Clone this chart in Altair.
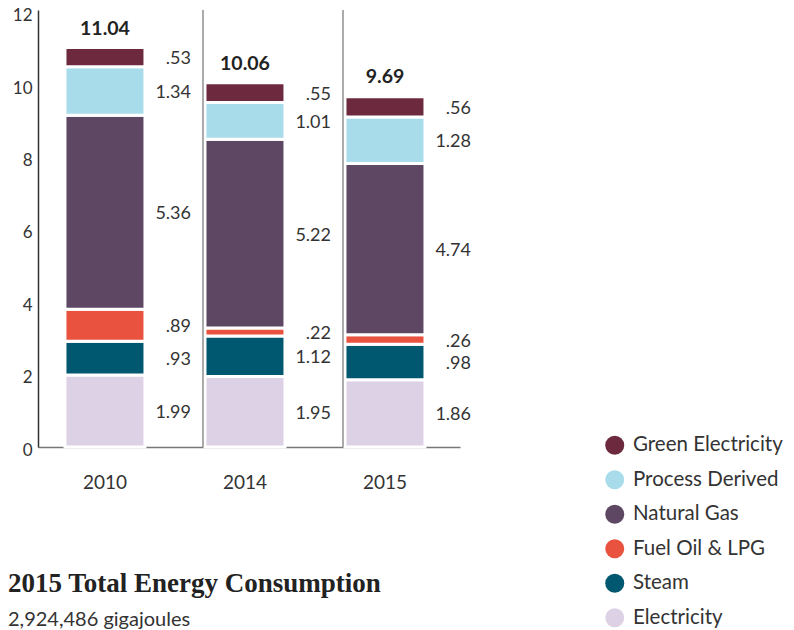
import altair as alt
import pandas as pd

years = ["2010", "2014", "2015"]
sources = ["Electricity", "Steam", "Fuel Oil & LPG", "Natural Gas", "Process Derived", "Green Electricity"]
electricity = [1.99, 1.95, 1.86]
steam = [0.93, 1.12, 0.98]
fuel_oil = [0.89, 0.22, 0.26]
natural_gas = [5.36, 5.22, 4.74]
process_derived = [1.34, 1.01, 1.28]
green_electricity = [0.53, 0.55, 0.56]
totals = [11.04, 10.06, 9.69]
colors = ["#ddd1e5", "#005870", "#e9523f", "#5e4763", "#a8dcea", "#6d2a3e"]
title_text = ["2015 Total Energy Consumption"]
subtitle_text = ["2,924,486 gigajoules"]
y_ticks = [0, 2, 4, 6, 8, 10, 12]

series = [electricity, steam, fuel_oil, natural_gas, process_derived, green_electricity]
rows = []
for si, (src, vals) in enumerate(zip(sources, series)):
    for yi, yr in enumerate(years):
        rows.append({"year": yr, "source": src, "value": vals[yi], "order": si,
                     "label": f"{vals[yi]:.2f}".lstrip("0")})
df = pd.DataFrame(rows)
tot_df = pd.DataFrame({"year": years, "total": totals, "label": [f"{t:.2f}" for t in totals]})
sep_df = pd.DataFrame({"year": years[1:]})

W, H = 422, 437
FONT = "Lato"

xscale = alt.Scale(domain=years, paddingInner=0.4286, paddingOuter=0.2214, align=0.435)
yscale = alt.Scale(domain=[0, 12.08], nice=False)

legend_domain = list(reversed(sources))
legend_range = list(reversed(colors))

bars = alt.Chart(df).mark_bar(stroke="white", strokeWidth=3).encode(
    x=alt.X("year:N", scale=xscale, sort=years,
            axis=alt.Axis(title=None, labelAngle=0, tickSize=0, labelPadding=26,
                          labelFontSize=19, labelFont=FONT, labelColor="#333",
                          domainColor="#777", domainWidth=1.5)),
    y=alt.Y("value:Q", stack="zero", scale=yscale,
            axis=alt.Axis(title=None, values=y_ticks, grid=False, tickSize=0, labelPadding=6,
                          labelOffset=3,
                          labelFontSize=17, labelFont=FONT, labelColor="#333",
                          domainColor="#333", domainWidth=1.5)),
    color=alt.Color("source:N", scale=alt.Scale(domain=legend_domain, range=legend_range),
                    legend=alt.Legend(orient="none", legendX=566.5, legendY=425, title=None,
                                      symbolType="circle", symbolSize=361, symbolStrokeWidth=0,
                                      labelFontSize=20.5, labelFont=FONT, labelColor="#333",
                                      rowPadding=13.5, labelOffset=8, padding=0,
                                      symbolOpacity=1)),
    order=alt.Order("order:Q", sort="ascending"),
)

vlabels = alt.Chart(df).transform_stack(
    stack="value", groupby=["year"], sort=[alt.SortField("order")], as_=["y0", "y1"]
).transform_calculate(mid="(datum.y0 + datum.y1) / 2").mark_text(
    align="right", baseline="middle", dx=86, dy=2, fontSize=18, font=FONT, color="#333"
).encode(
    x=alt.X("year:N", scale=xscale, sort=years),
    y=alt.Y("mid:Q", scale=yscale),
    text="label:N",
)

tlabels = alt.Chart(tot_df).mark_text(
    align="center", baseline="middle", dy=-19, fontSize=19.5, fontWeight="bold", font=FONT, color="#222"
).encode(
    x=alt.X("year:N", scale=xscale, sort=years),
    y=alt.Y("total:Q", scale=yscale),
    text="label:N",
)

seps = alt.Chart(sep_df).mark_rule(color="#aaa", strokeWidth=2, xOffset=-2).encode(
    x=alt.X("year:N", scale=xscale, sort=years, bandPosition=0),
    y=alt.value(0),
    y2=alt.value(H),
)

title = alt.Chart(pd.DataFrame({"t": title_text})).mark_text(
    align="left", baseline="alphabetic", fontSize=27, fontWeight="bold",
    font="Liberation Serif", color="#222"
).encode(x=alt.value(-30), y=alt.value(582), text="t:N")

subtitle = alt.Chart(pd.DataFrame({"t": subtitle_text})).mark_text(
    align="left", baseline="middle", fontSize=20, font=FONT, color="#333"
).encode(x=alt.value(-30), y=alt.value(610), text="t:N")

chart = alt.layer(bars, seps, vlabels, tlabels, title, subtitle).properties(
    width=W, height=H,
    autosize=alt.AutoSizeParams(type="none"),
    padding={"left": 30, "top": 2, "right": 326, "bottom": 183},
).configure_view(stroke=None)

chart.save("out.html", embed_options={"renderer": "svg", "actions": False})
